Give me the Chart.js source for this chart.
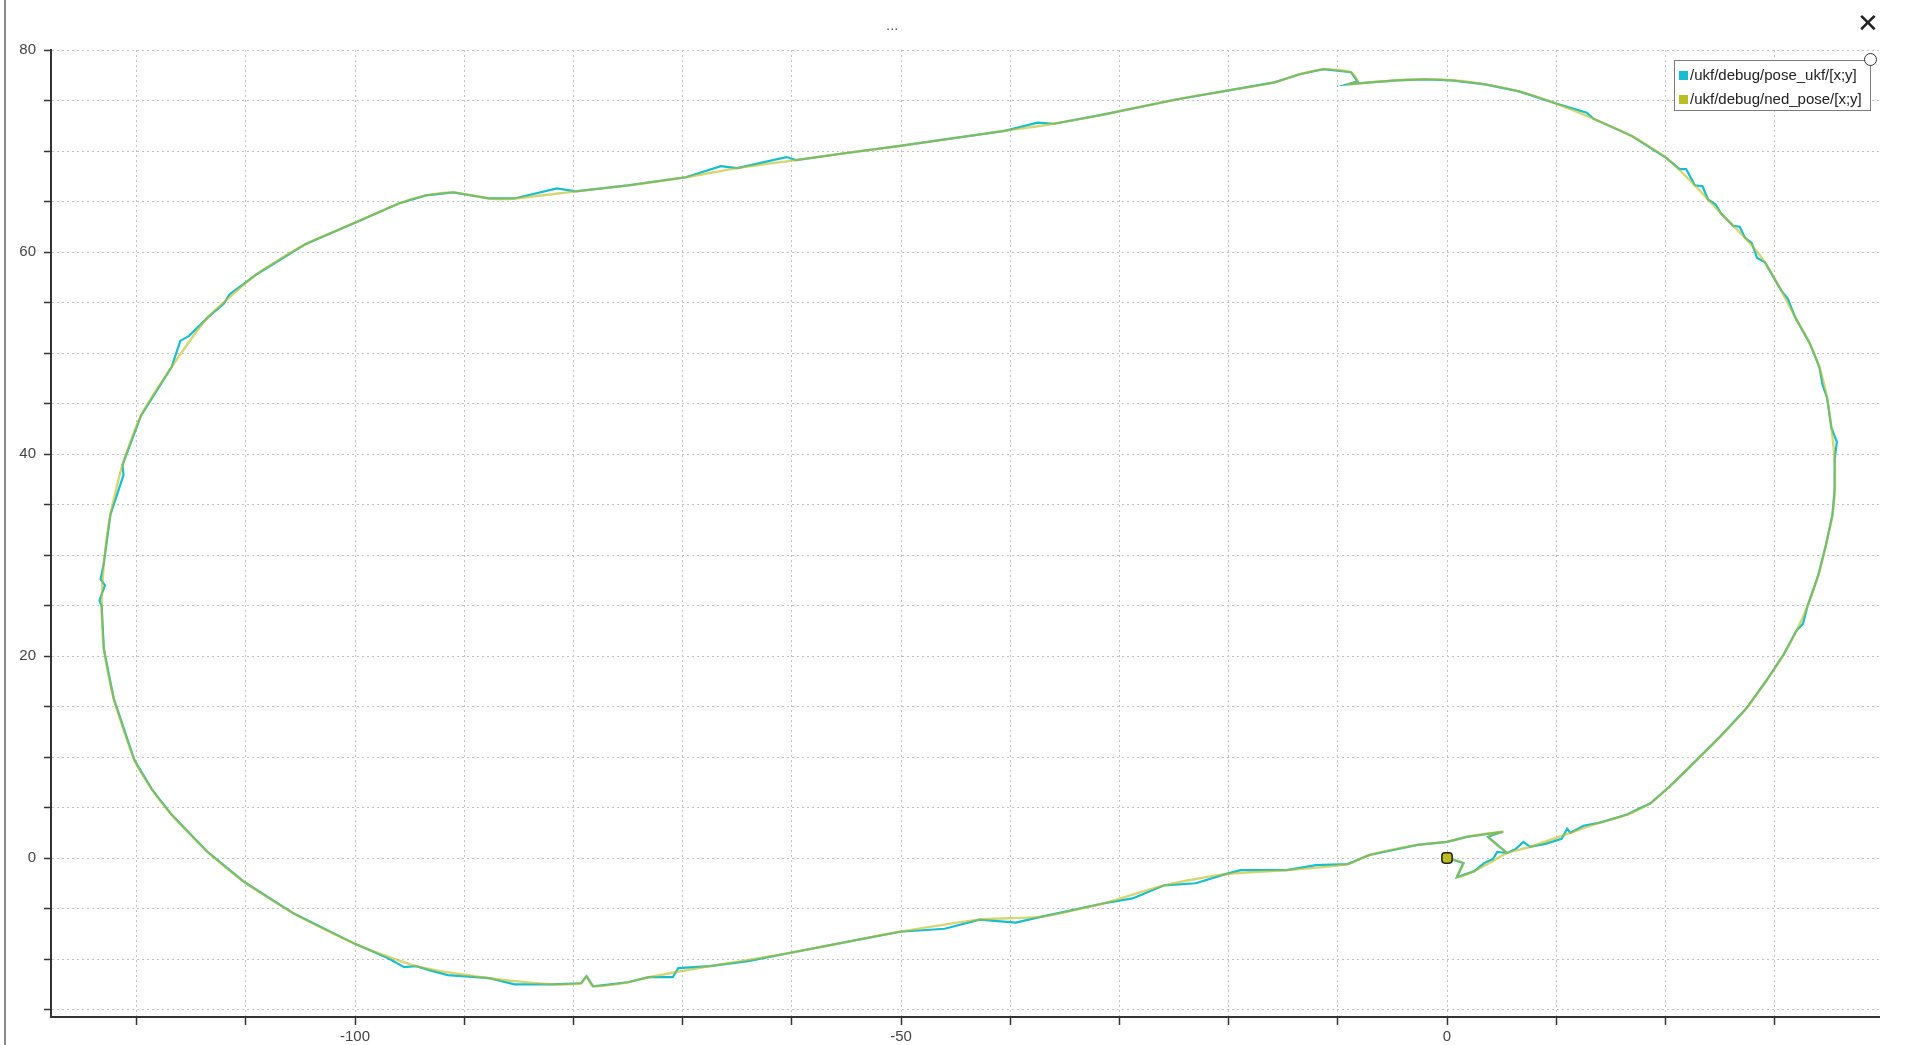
<!DOCTYPE html>
<html>
<head>
<meta charset="utf-8">
<script src="https://cdn.jsdelivr.net/npm/chart.js@4.4.1/dist/chart.umd.min.js"></script>
<style>
  html, body { margin: 0; padding: 0; background: #fff; overflow: hidden; }
  #wrap { position: relative; width: 1920px; height: 1045px; }
  #edge { position: absolute; left: 4px; top: 0; width: 2px; height: 1045px; background: #8a8a8a; }
  #dots { position: absolute; left: 886px; top: 16px; font: 15px "Liberation Sans", Arial, sans-serif; color: #555; }
  #close { position: absolute; left: 1857px; top: 10px; font: 26px "DejaVu Sans", sans-serif; color: #222; line-height: 1; }
  #legend { position: absolute; left: 1674px; top: 60px; width: 195px; height: 49px; border: 1.5px solid #7a7a7a; background: #fff;
            font: 15px "Liberation Sans", Arial, sans-serif; color: #222; box-sizing: content-box; }
  #legend .row { position: absolute; left: 4px; height: 18px; line-height: 18px; white-space: nowrap; }
  #legend .sw { display: inline-block; width: 9px; height: 9px; margin-right: 2px; vertical-align: 0px; }
  #knob { position: absolute; left: 1864px; top: 53px; width: 11px; height: 11px; border-radius: 50%; border: 1.5px solid #333; background: #fff; }
</style>
</head>
<body>
<div id="wrap">
  <canvas id="c"></canvas>
  <div id="edge"></div>
  <div id="dots">...</div>
  <div id="close">✕</div>
  <div id="legend"></div>
  <div id="knob"></div>
</div>
<script>
// ---- series names / colours ----
const seriesNames = ['/ukf/debug/pose_ukf/[x;y]', '/ukf/debug/ned_pose/[x;y]'];
const seriesColors = ['#17becf', '#bcbd22'];

// ---- /ukf/debug/ned_pose/[x;y] : [x, y] samples ----
const nedPath = [
  [0,0],[1.5,-0.5],[0.9,-1.9],[2.5,-1.3],[4.2,-0.3],[5.5,0.5],[7.6,1.1],[11.3,2.5],[14.0,3.5],[16.5,4.3],[18.6,5.4],
  [20.3,7.0],[22.3,9.1],[25.0,12.0],[27.4,14.8],[29.2,17.5],[30.8,20.1],[32.0,22.5],[33.0,24.9],[34.0,28.0],[34.7,31.0],
  [35.3,34.0],[35.5,36.5],[35.5,39.5],[35.2,42.6],[34.8,45.6],[34.1,48.6],[33.2,51.0],[31.9,53.5],[30.6,56.2],[29.1,59.0],
  [27.3,61.4],[25.1,63.8],[22.7,66.6],[20.1,69.3],[16.9,71.5],[13.4,73.2],[10.0,74.7],[6.6,75.9],[3.5,76.6],[0.4,77.0],
  [-2.0,77.1],[-4.6,77.0],[-7.0,76.8],[-9.1,76.6],[-8.2,76.9],[-8.8,77.8],[-11.3,78.1],[-13.5,77.6],[-15.8,76.8],[-20.0,76.0],
  [-24.8,75.1],[-31.5,73.6],[-36.0,72.7],[-40.5,72.0],[-45.0,71.3],[-50.1,70.5],[-55.0,69.8],[-59.6,69.1],[-65.0,68.3],
  [-69.7,67.4],[-75.0,66.6],[-79.8,66.0],[-85.4,65.3],[-87.7,65.3],[-91.0,65.9],[-93.5,65.6],[-96.0,64.8],[-100.0,62.9],
  [-104.5,60.8],[-109.0,57.8],[-113.5,53.5],[-116.8,48.6],[-119.6,43.8],[-121.3,38.9],[-122.4,34.0],[-123.0,29.2],
  [-123.2,24.9],[-123.0,20.7],[-122.1,15.8],[-120.2,9.7],[-118.6,6.8],[-116.8,4.3],[-113.5,0.6],[-110.1,-2.4],[-105.6,-5.5],
  [-100.0,-8.5],[-94.4,-10.7],[-87.7,-11.9],[-82.0,-12.5],[-79.3,-12.4],[-78.8,-11.7],[-78.2,-12.7],[-75.0,-12.3],
  [-73.1,-11.8],[-67.5,-10.7],[-60.7,-9.5],[-54.0,-8.1],[-50.1,-7.3],[-42.8,-6.1],[-37.1,-5.8],[-31.5,-4.5],[-25.9,-2.7],
  [-20.3,-1.6],[-14.7,-1.2],[-9.1,-0.6],[-7.1,0.3],[-2.7,1.3],[0.0,1.6],[1.8,2.1],[5.1,2.6],[3.75,2.1],[5.5,0.5]
];

// ---- /ukf/debug/pose_ukf/[x;y] : noisy estimate, [x, y] samples ----
const ukfPath = [
  [0,0],[1.5,-0.5],[0.9,-1.9],[2.5,-1.3],[3.4,-0.5],[4.2,-0.1],[4.6,0.6],[5.5,0.5],[6.3,0.9],[7.0,1.6],[7.6,1.1],[9.0,1.4],
  [10.5,1.9],[11.0,2.9],[11.3,2.5],[12.5,3.2],[14.0,3.5],[16.5,4.3],[17.6,4.9],[18.6,5.4],[20.3,7.0],[22.3,9.1],[25.0,12.0],
  [27.4,14.8],[29.2,17.5],[30.8,20.1],[32.0,22.5],[32.6,23.2],[33.0,24.9],[34.0,28.0],[34.7,31.0],[35.3,34.0],[35.5,36.5],
  [35.5,39.5],[35.7,41.2],[35.2,42.6],[34.8,45.6],[34.4,46.8],[34.1,48.6],[33.2,51.0],[31.9,53.5],[31.2,55.4],[30.6,56.2],
  [29.1,59.0],[28.4,59.4],[27.9,60.9],[27.3,61.4],[26.8,62.5],[26.2,62.6],[25.1,63.8],[24.6,64.7],[23.9,65.2],[23.4,66.5],
  [22.7,66.6],[21.9,68.2],[21.3,68.2],[20.1,69.3],[16.9,71.5],[13.4,73.2],[12.8,73.8],[10.0,74.7],[6.6,75.9],[3.5,76.6],
  [0.4,77.0],[-2.0,77.1],[-4.6,77.0],[-7.0,76.8],[-9.1,76.6],[-8.2,76.9],[-8.8,77.8],[-11.3,78.1],[-13.5,77.6],[-15.8,76.8],
  [-20.0,76.0],[-24.8,75.1],[-31.5,73.6],[-36.0,72.7],[-37.5,72.8],[-40.5,72.0],[-45.0,71.3],[-50.1,70.5],[-55.0,69.8],
  [-59.6,69.1],[-60.5,69.4],[-65.0,68.3],[-66.5,68.5],[-69.7,67.4],[-75.0,66.6],[-79.8,66.0],[-81.5,66.3],[-85.4,65.3],
  [-87.7,65.3],[-91.0,65.9],[-93.5,65.6],[-96.0,64.8],[-100.0,62.9],[-104.5,60.8],[-109.0,57.8],[-111.5,55.8],[-112.0,54.9],
  [-113.5,53.5],[-115.2,51.7],[-116.0,51.2],[-116.8,48.6],[-119.6,43.8],[-121.3,38.9],[-121.2,37.9],[-122.4,34.0],
  [-123.0,29.2],[-123.3,27.6],[-122.9,27.0],[-123.4,25.5],[-123.2,24.9],[-123.0,20.7],[-122.1,15.8],[-120.2,9.7],
  [-118.6,6.8],[-116.8,4.3],[-113.5,0.6],[-110.1,-2.4],[-105.6,-5.5],[-100.0,-8.5],[-97.0,-9.9],[-95.5,-10.8],[-94.4,-10.7],
  [-93.2,-11.1],[-91.5,-11.6],[-87.7,-11.9],[-85.4,-12.5],[-82.0,-12.5],[-79.3,-12.4],[-78.8,-11.7],[-78.2,-12.7],
  [-75.0,-12.3],[-73.1,-11.8],[-70.9,-11.8],[-70.4,-10.9],[-67.5,-10.7],[-64.0,-10.2],[-60.7,-9.5],[-54.0,-8.1],[-50.1,-7.3],
  [-46.0,-7.0],[-42.8,-6.1],[-39.5,-6.4],[-37.1,-5.8],[-31.5,-4.5],[-28.8,-4.0],[-25.9,-2.7],[-23.0,-2.5],[-20.3,-1.6],
  [-18.9,-1.2],[-14.7,-1.2],[-12.0,-0.7],[-9.1,-0.6],[-7.1,0.3],[-2.7,1.3],[0.0,1.6],[1.8,2.1],[5.1,2.6],[3.75,2.1],[5.5,0.5]
];

// ---- current position marker ----
const markerX = [0];
const markerY = [0];

// ---- axis ranges / ticks ----
const xMin = -127.84, xMax = 39.56, xStep = 10, xLabelEvery = 50;
const yMin = -15.74, yMax = 80.0, yStep = 5, yLabelEvery = 20;

const toPts = arr => arr.map(p => ({ x: p[0], y: p[1] }));
const FONT = '"Liberation Sans", Arial, sans-serif';

// HTML legend built from series names/colours
const lg = document.getElementById('legend');
seriesNames.forEach((n, i) => {
  const r = document.createElement('div');
  r.className = 'row';
  r.style.top = (5 + i * 24) + 'px';
  r.innerHTML = '<span class="sw" style="background:' + seriesColors[i] + '"></span>' + n;
  lg.appendChild(r);
});

new Chart(document.getElementById('c'), {
  type: 'scatter',
  data: {
    datasets: [
      { label: seriesNames[0], data: toPts(ukfPath), showLine: true, borderColor: seriesColors[0], borderWidth: 2.2,
        pointRadius: 0, tension: 0, order: 3 },
      { label: seriesNames[1], data: toPts(nedPath), showLine: true, borderColor: 'rgba(188,189,34,0.62)', borderWidth: 2.4,
        pointRadius: 0, tension: 0.2, order: 2 },
      { label: 'marker', data: markerX.map((x, i) => ({ x: x, y: markerY[i] })), showLine: false, pointStyle: 'rectRounded', pointRadius: 6,
        backgroundColor: seriesColors[1], borderColor: '#222', borderWidth: 1.5, order: 1 }
    ]
  },
  options: {
    responsive: true,
    maintainAspectRatio: false,
    animation: false,
    layout: { padding: { top: 50, right: 41, left: 0, bottom: 0 } },
    plugins: { legend: { display: false }, tooltip: { enabled: false }, title: { display: false } },
    scales: {
      x: {
        type: 'linear', position: 'bottom', min: xMin, max: xMax,
        afterFit: s => { s.height = 28; },
        grid: { color: '#c2c2c2', lineWidth: 1, drawTicks: true, tickLength: 8, tickColor: '#333', tickWidth: 1.5 },
        border: { display: true, color: '#333', width: 2, dash: [2, 3] },
        ticks: { stepSize: xStep, autoSkip: false, includeBounds: false, maxRotation: 0, padding: 3,
                 color: '#444', font: { size: 15, family: FONT },
                 callback: v => (Math.round(v) % xLabelEvery === 0 ? String(Math.round(v)) : '') }
      },
      y: {
        type: 'linear', position: 'left', min: yMin, max: yMax,
        afterFit: s => { s.width = 51; },
        grid: { color: '#c2c2c2', lineWidth: 1, drawTicks: true, tickLength: 7, tickColor: '#333', tickWidth: 1.5 },
        border: { display: true, color: '#333', width: 2, dash: [2, 3] },
        ticks: { stepSize: yStep, autoSkip: false, includeBounds: false, padding: 8,
                 color: '#444', font: { size: 15, family: FONT },
                 callback: v => (Math.round(v) % yLabelEvery === 0 ? String(Math.round(v)) : '') }
      }
    }
  }
});
</script>
</body>
</html>
